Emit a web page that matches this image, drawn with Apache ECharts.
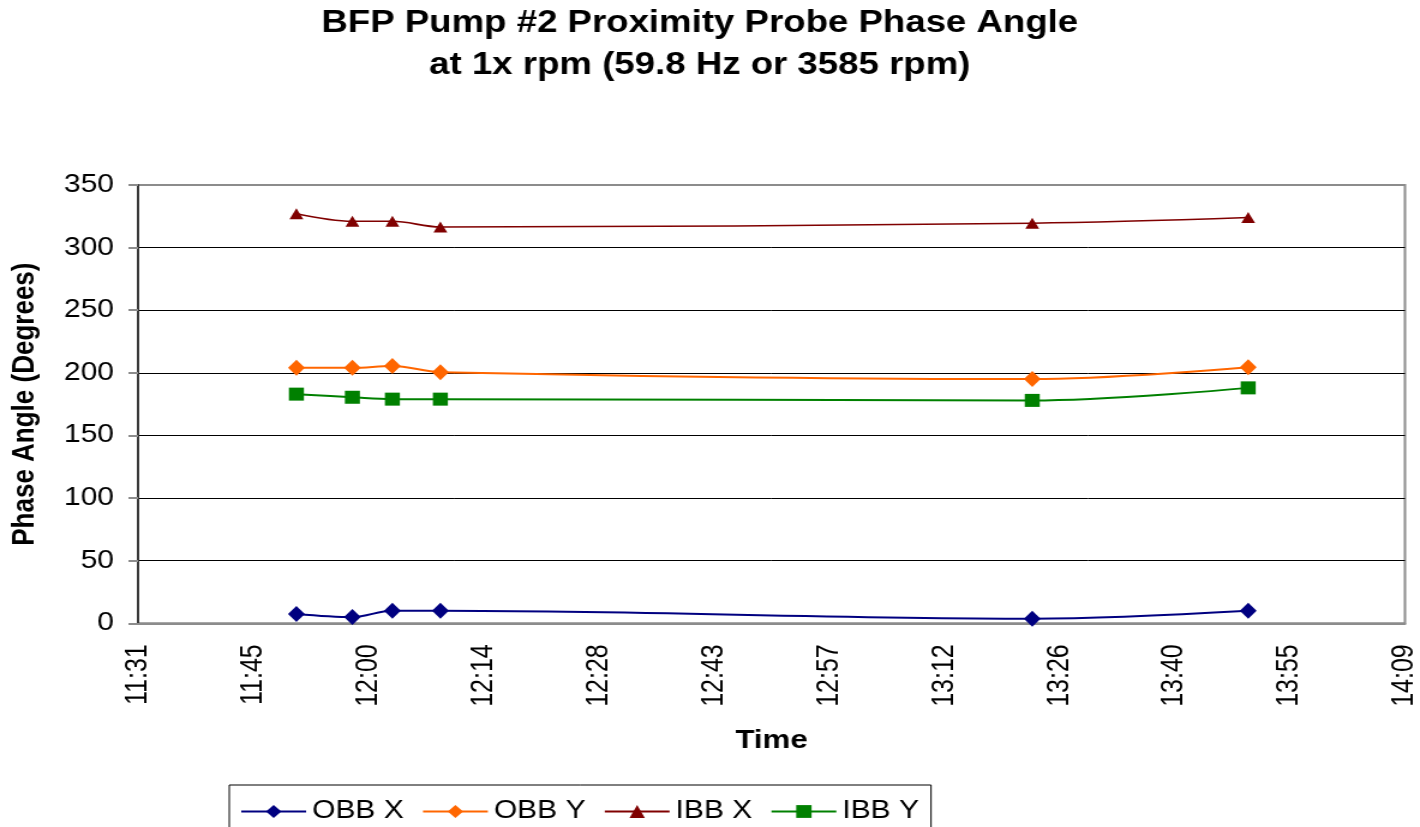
<!DOCTYPE html>
<html>
<head>
<meta charset="utf-8">
<title>BFP Pump #2 Proximity Probe Phase Angle</title>
<script src="https://cdn.jsdelivr.net/npm/echarts@6/dist/echarts.min.js"></script>
<style>
    html, body { margin: 0; padding: 0; background: #fff; overflow: hidden; }
    /* the source picture is a little wider than tall, so stretch the chart sideways */
    #chart1 { width: 1183px; height: 827px; transform: scaleX(1.2003); transform-origin: 0 0; }
</style>
</head>
<body>
<div id="chart1"></div>
<script>
/* Data */
const times = ['11:51', '11:58', '12:03', '12:09', '13:23', '13:50'];
const obbX = [7.5, 5, 10, 10, 3.7, 10];
const obbY = [204, 204, 205.5, 200.5, 195, 204.5];
const ibbX = [327, 321, 321, 316.5, 319.5, 324];
const ibbY = [183, 180.5, 179, 179, 178, 188];
const seriesNames = ['OBB X', 'OBB Y', 'IBB X', 'IBB Y'];

/* Excel date axis: 0.48 .. 0.59 day, step 0.01 day (in seconds) */
const xMin = 41472, xMax = 50976, xStep = 864;

const font = "'Liberation Sans', Arial, sans-serif";

const toSec = (t) => {
    let p = t.split(':');
    return (+p[0]) * 3600 + (+p[1]) * 60;
};

const fmtTime = (v) => {
    let s = Math.round(v);
    let h = Math.floor(s / 3600);
    let m = Math.floor((s % 3600) / 60);
    return h + ':' + (m < 10 ? '0' + m : m);
};

const pairs = (vals) => vals.map((v, i) => [toSec(times[i]), v]);

let chartDom = document.getElementById('chart1');
let myChart = echarts.init(chartDom);

let option = {
    backgroundColor: '#fff',
    animation: false,
    title: {
        text: 'BFP Pump #2 Proximity Probe Phase Angle\nat 1x rpm (59.8 Hz or 3585 rpm)',
        left: 583,
        top: 3,
        textAlign: 'center',
        padding: 0,
        textStyle: {
            fontFamily: font,
            fontSize: 30.5,
            fontWeight: 'bold',
            color: '#000',
            lineHeight: 42,
        },
    },
    legend: {
        data: seriesNames,
        left: 191,
        top: 785,
        orient: 'horizontal',
        itemWidth: 54,
        itemHeight: 16,
        itemGap: 15,
        padding: [14, 10, 20, 9],
        borderColor: '#000',
        borderWidth: 1,
        textStyle: {
            fontFamily: font,
            fontSize: 25,
            color: '#000',
        },
    },
    grid: {
        left: 114.4,
        right: 8.8,
        top: 185,
        bottom: 203.7,
        show: true,
        backgroundColor: '#fff',
        borderColor: '#8c8c8c',
        borderWidth: 2,
    },
    xAxis: {
        type: 'value',
        min: xMin,
        max: xMax,
        interval: xStep,
        name: 'Time',
        nameLocation: 'middle',
        nameGap: 105,
        nameTextStyle: {
            fontFamily: font,
            fontSize: 26,
            fontWeight: 'bold',
            color: '#000',
        },
        axisLine: { show: true, lineStyle: { color: '#8c8c8c', width: 2 } },
        axisTick: { show: false },
        splitLine: { show: false },
        axisLabel: {
            rotate: 90,
            margin: 21,
            fontFamily: font,
            fontSize: 25,
            color: '#000',
            formatter: fmtTime,
        },
    },
    yAxis: {
        type: 'value',
        min: 0,
        max: 350,
        interval: 50,
        name: 'Phase Angle (Degrees)',
        nameLocation: 'middle',
        nameGap: 81,
        nameTextStyle: {
            fontFamily: font,
            fontSize: 26,
            fontWeight: 'bold',
            color: '#000',
        },
        axisLine: { show: true, lineStyle: { color: '#3a3a3a', width: 2 } },
        axisTick: { show: true, inside: false, length: 8, lineStyle: { color: '#8c8c8c', width: 2 } },
        splitLine: {
            show: true,
            showMinLine: false,
            showMaxLine: false,
            lineStyle: { color: '#000', width: 1 },
        },
        axisLabel: {
            margin: 20,
            fontFamily: font,
            fontSize: 25,
            color: '#000',
        },
    },
    series: [
        {
            name: 'OBB X',
            type: 'line',
            data: pairs(obbX),
            smooth: 0.35,
            symbol: 'diamond',
            symbolSize: [14, 16],
            color: '#000080',
            lineStyle: { color: '#000080', width: 2 },
            itemStyle: { color: '#000080' },
        },
        {
            name: 'OBB Y',
            type: 'line',
            data: pairs(obbY),
            smooth: 0.35,
            symbol: 'diamond',
            symbolSize: [14, 16],
            color: '#ff6600',
            lineStyle: { color: '#ff6600', width: 2 },
            itemStyle: { color: '#ff6600' },
        },
        {
            name: 'IBB X',
            type: 'line',
            data: pairs(ibbX),
            smooth: 0.35,
            symbol: 'triangle',
            symbolSize: [11.5, 11],
            color: '#800000',
            lineStyle: { color: '#800000', width: 1.6 },
            itemStyle: { color: '#800000' },
        },
        {
            name: 'IBB Y',
            type: 'line',
            data: pairs(ibbY),
            smooth: 0.35,
            symbol: 'rect',
            symbolSize: [12.5, 13],
            color: '#008000',
            lineStyle: { color: '#008000', width: 2 },
            itemStyle: { color: '#008000' },
        },
    ],
};

option && myChart.setOption(option);

window.addEventListener('resize', () => {
    myChart.resize();
});
</script>
</body>
</html>
